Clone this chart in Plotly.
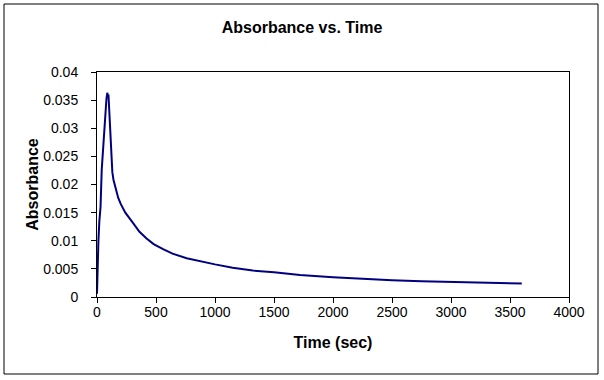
import plotly.graph_objects as go

# Data
time_sec = [0, 5, 12, 20, 30, 40, 50, 60, 70, 80, 87, 92, 97, 104, 112, 120, 130, 140,
            160, 180, 200, 240, 300, 360, 420, 480, 560, 640, 760, 900, 1000, 1150,
            1320, 1500, 1720, 2000, 2250, 2500, 2750, 3000, 3300, 3600]
absorbance = [0.0006, 0.0058, 0.0100, 0.0135, 0.0160, 0.0226, 0.0258, 0.0300, 0.0332, 0.0352,
              0.0363, 0.0358, 0.0360, 0.0330, 0.0280, 0.0244, 0.0222, 0.0208,
              0.0190, 0.0176, 0.0166, 0.0150, 0.0133, 0.0116, 0.0104, 0.0094, 0.0085,
              0.0077, 0.0069, 0.0062, 0.0058, 0.0052, 0.0047, 0.0044, 0.0039, 0.0035,
              0.0032, 0.0030, 0.0028, 0.0027, 0.0025, 0.0024]

x_tick_vals = [0, 500, 1000, 1500, 2000, 2500, 3000, 3500, 4000]
x_tick_text = ["0", "500", "1000", "1500", "2000", "2500", "3000", "3500", "4000"]
y_tick_vals = [0, 0.005, 0.01, 0.015, 0.02, 0.025, 0.03, 0.035, 0.04]
y_tick_text = ["0", "0.005", "0.01", "0.015", "0.02", "0.025", "0.03", "0.035", "0.04"]

FONT = "Liberation Sans, Arial, sans-serif"

fig = go.Figure()
fig.add_trace(go.Scatter(
    x=time_sec, y=absorbance, mode="lines",
    line=dict(color="#000080", width=2),
    showlegend=False,
))

W, H = 604, 380
L, R, T, B = 97, 35, 72, 83
pw, ph = W - L - R, H - T - B

def px_to_paper_x(px):
    return (px - L) / pw

def px_to_paper_y(py):
    return (H - B - py) / ph

fig.update_layout(
    width=W, height=H,
    margin=dict(l=L, r=R, t=T, b=B, pad=0),
    paper_bgcolor="white", plot_bgcolor="white",
    font=dict(family=FONT, color="black", size=14),
    title=dict(text="<b>Absorbance vs. Time</b>", x=0.5, xref="container",
               y=1 - 27 / H, yref="container", yanchor="middle", xanchor="center",
               font=dict(size=16, family=FONT, color="black")),
    xaxis=dict(
        range=[0, 4000], tickvals=x_tick_vals, ticktext=x_tick_text,
        showgrid=False, zeroline=False,
        showline=True, linecolor="black", linewidth=1, mirror=True,
        ticks="outside", ticklen=5, tickcolor="black", tickwidth=1,
        tickfont=dict(size=14, family=FONT),
        ticklabelstandoff=-3,
        title=dict(text="<b>Time (sec)</b>", font=dict(size=16, family=FONT), standoff=18),
    ),
    yaxis=dict(
        range=[0, 0.04], tickvals=y_tick_vals, ticktext=y_tick_text,
        showgrid=False, zeroline=False,
        showline=True, linecolor="black", linewidth=1, mirror=True,
        ticks="outside", ticklen=5, tickcolor="black", tickwidth=1,
        tickfont=dict(size=14, family=FONT),
        ticklabelstandoff=10,
        title=dict(text="<b>Absorbance</b>", font=dict(size=16, family=FONT), standoff=0),
    ),
    shapes=[dict(
        type="rect", xref="paper", yref="paper",
        x0=px_to_paper_x(4), x1=px_to_paper_x(598),
        y0=px_to_paper_y(374), y1=px_to_paper_y(4),
        line=dict(color="black", width=1), fillcolor="rgba(0,0,0,0)", layer="below",
    )],
)

fig.write_html("out.html", config={"displayModeBar": False},
               post_script="document.body.style.margin='0';document.body.style.overflow='hidden';")
